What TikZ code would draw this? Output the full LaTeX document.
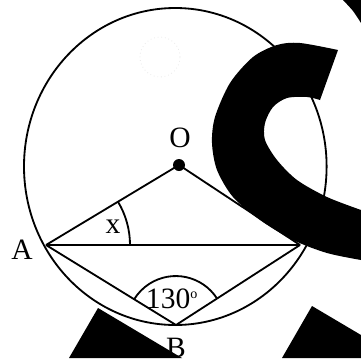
\documentclass[tikz,border=0pt]{standalone}
\usepackage{fontspec}
\setmainfont{Liberation Serif}
\usetikzlibrary{calc,positioning}

\begin{document}
\begin{tikzpicture}[
        x=0.025cm, y=0.025cm,
        edge/.style={line width=1.3pt, draw=black},
        lbl/.style={font=\fontsize{21}{23}\selectfont, inner sep=0pt},
        blot/.style={fill=black, draw=none}
    ]
        \useasboundingbox (0,0) rectangle (361,358);

        \coordinate (O) at (179,193);
        \coordinate (A) at (46,113);
        \coordinate (C) at (300,113);
        \coordinate (B) at (176,33);

        % circle and faint mark
        \draw[edge] (175.3,191.5) ellipse [x radius=151.3, y radius=158.5];
        \draw[black!8, dotted, line width=0.6pt] (160,301) circle [radius=20];

        \draw[edge] (A) -- (O) -- (C);
        \draw[edge] (A) -- (C);
        \draw[edge] (A) -- (B) -- (C);
        \fill (O) circle [radius=6];

        % angle marks
        \draw[edge] ($(A)+(84,0)$) arc [start angle=0, end angle=31, radius=84];
        \draw[edge] ($(B)+(41,26.5)$) arc [start angle=32.8, end angle=148.4, radius=49];

        \node[lbl] (lblO) at (180,220) {O};
        \node[lbl] (lblA) at (22,108) {A};
        \node[lbl] (lblB) at (176,10) {B};
        \node[lbl] (lblx) at (113,131) {x};
        \node[lbl] (lblang) at (172,59) {130\textsuperscript{\fontsize{10}{11}\selectfont o}};

        % black overlay shapes
        \fill[blot] plot[smooth] coordinates {(338,308) (300,315) (277,313) (253,301) (230,275) (215,241) (212,215) (217,188) (233,161) (260,138) (293,118) (327,105) (361,98)}
            -- (361,148)
            -- plot[smooth] coordinates {(361,148) (327,161) (297,178) (277,198) (265,218) (265,235) (273,251) (287,260) (307,261) (320,258)}
            -- cycle;
        \fill[blot] plot[smooth] coordinates {(343,358) (353,347) (361,335)} -- (361,358) -- cycle;
        \fill[blot] (98,50) -- (182,0) -- (69,0) -- cycle;
        \fill[blot] (312,52) -- (361,23) -- (361,0) -- (282,0) -- cycle;
    \end{tikzpicture}
\end{document}
